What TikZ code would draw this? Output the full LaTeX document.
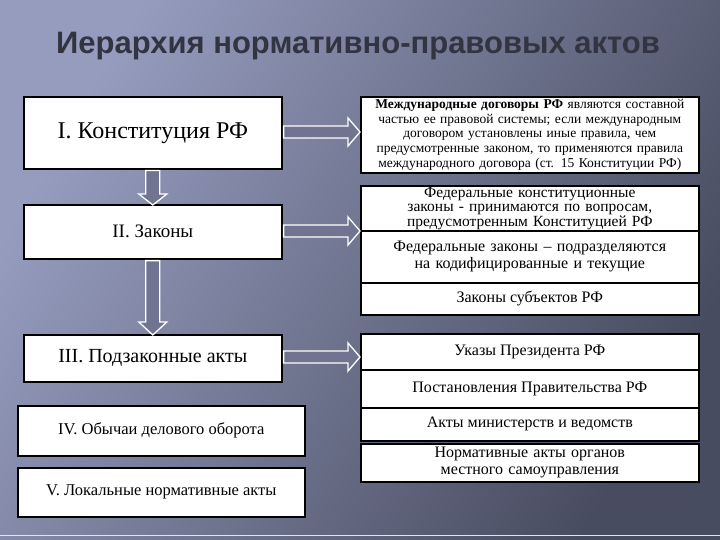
\documentclass[tikz,border=0pt]{standalone}
\usepackage{fontspec}
\setmainfont{Liberation Serif}
\newfontfamily\titlefont{Liberation Sans}
\usetikzlibrary{calc}
\tikzset{
  box/.style={draw=black, line width=1.6pt, fill=white, anchor=north west, align=center, inner sep=1pt, font=\fontsize{16}{17}\selectfont},
  arr/.style={draw=white, line width=1.3pt, fill={rgb,255:red,112;green,116;blue,145}, line join=miter},
}
\begin{document}
\begin{tikzpicture}[x=1pt,y=-1pt]
\useasboundingbox (0,0) rectangle (720,540);
\shade[left color={rgb,255:red,150;green,156;blue,190}, right color={rgb,255:red,72;green,76;blue,96}, shading angle=60] (0,0) rectangle (720,540);
\draw[white!80!gray, line width=1pt] (0,535) -- (720,535);
\node[font=\titlefont\bfseries\fontsize{31}{33}\selectfont, text={rgb,255:red,50;green,52;blue,66}] (title) at (358,46) {Иерархия нормативно-правовых актов};

% left column
\node[box, minimum width=258, minimum height=72, font=\fontsize{24}{26}\selectfont] (c1) at (23,96) {I. Конституция РФ};
\node[box, minimum width=258, minimum height=54, font=\fontsize{19}{21}\selectfont] (c2) at (23,204) {II. Законы};
\node[box, minimum width=258, minimum height=47, font=\fontsize{20}{22}\selectfont] (c3) at (23,334) {III. Подзаконные акты};
\node[box, minimum width=287, minimum height=50, font=\fontsize{16.5}{18}\selectfont] (c4) at (17,405) {IV. Обычаи делового оборота};
\node[box, minimum width=287, minimum height=49, font=\fontsize{16.5}{18}\selectfont] (c5) at (17,467) {V. Локальные нормативные акты};

% right column
\node[box, minimum width=338, minimum height=76, text width=334, font=\fontsize{13.5}{14.6}\selectfont] (r1) at (360,96)
 {\textbf{Международные договоры РФ} являются составной частью ее правовой системы; если международным договором установлены иные правила, чем предусмотренные законом, то применяются правила международного договора (ст. 15 Конституции РФ)};
\node[box, minimum width=338, minimum height=45, text width=334, font=\fontsize{15.5}{14.5}\selectfont] (r2) at (360,185)
 {Федеральные конституционные законы - принимаются по вопросам, предусмотренным Конституцией РФ};
\node[box, minimum width=338, minimum height=52, text width=310] (r3) at (360,230)
 {Федеральные законы -- подразделяются на кодифицированные и текущие};
\node[box, minimum width=338, minimum height=32] (r4) at (360,282) {Законы субъектов РФ};
\node[box, minimum width=338, minimum height=36] (r5) at (360,333) {Указы Президента РФ};
\node[box, minimum width=338, minimum height=38] (r6) at (360,369) {Постановления Правительства РФ};
\node[box, minimum width=338, minimum height=33] (r7) at (360,407) {Акты министерств и ведомств};
\node[box, minimum width=338, minimum height=38, text width=320] (r8) at (360,443) {Нормативные акты органов местного самоуправления};

% horizontal arrows
\foreach \a/\b/\yy in {c1/r1/132, c2/r2/231, c3/r5/357}{
  \path (\a.east|-0,\yy) coordinate (s) (\b.west|-0,\yy) coordinate (t);
  \draw[arr] ($(s)+(1,-6)$) -- ($(t)+(-12,-6)$) -- ($(t)+(-12,-14)$) -- (t) -- ($(t)+(-12,14)$) -- ($(t)+(-12,6)$) -- ($(s)+(1,6)$) -- cycle;
}
% vertical arrows
\draw[arr] ($(c1.south)+(-7,1)$) -- ($(c2.north)+(-7,-10)$) -- ++(-7,0) -- ($(c2.north)+(0,1)$) -- ($(c2.north)+(14,-10)$) -- ++(-7,0) -- ($(c1.south)+(7,1)$) -- cycle;
\draw[arr] ($(c2.south)+(-7,1)$) -- ($(c3.north)+(-7,-12)$) -- ++(-7,0) -- ($(c3.north)+(0,1)$) -- ($(c3.north)+(14,-12)$) -- ++(-7,0) -- ($(c2.south)+(7,1)$) -- cycle;
\end{tikzpicture}
\end{document}
